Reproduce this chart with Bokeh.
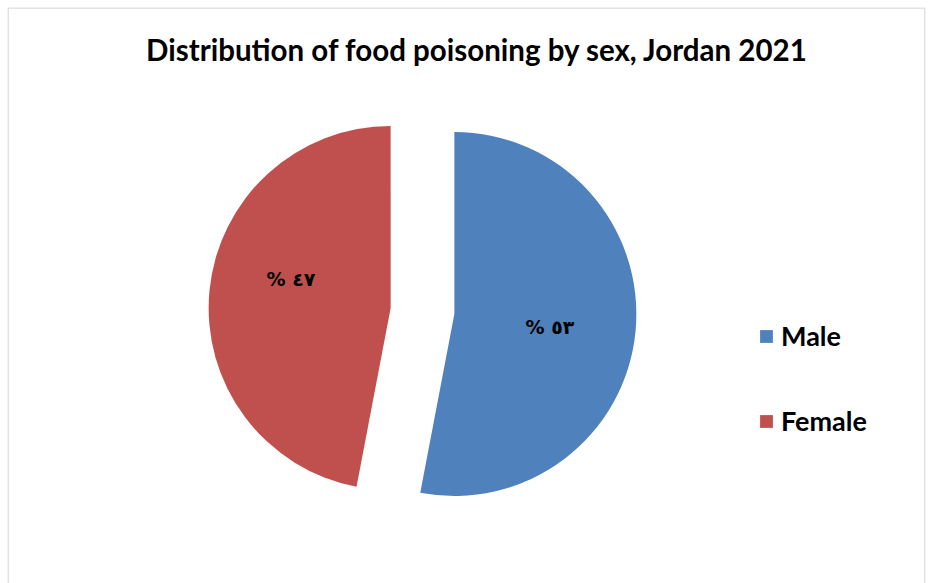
import math
from bokeh.plotting import figure
from bokeh.models import ColumnDataSource, Label, Legend, LegendItem, Range1d, BoxAnnotation
from bokeh.core.properties import value
from bokeh.embed import file_html
from bokeh.resources import INLINE

# ---- data ----
categories = ["Male", "Female"]
shares = [53, 47]
labels = ["% ٥٣", "% ٤٧"]
colors = ["#4F81BD", "#C0504D"]
title_text = "Distribution of food poisoning by sex, Jordan 2021"

W, H = 930, 583
FW, FH = 918, 576          # frame size (pixels)
CX, CY = 415, 272.5        # pie centre in pixel-like data units
R = 182
EXPLODE = 32

# angles: start at 12 o'clock, clockwise
total = sum(shares)
starts, ends, xs, ys, lx, ly = [], [], [], [], [], []
acc = 0.0
for s in shares:
    a0 = math.pi / 2 - 2 * math.pi * (acc + s) / total
    a1 = math.pi / 2 - 2 * math.pi * acc / total
    acc += s
    mid = (a0 + a1) / 2
    ox = CX + EXPLODE * math.cos(mid)
    oy = CY + EXPLODE * math.sin(mid)
    starts.append(a0)
    ends.append(a1)
    xs.append(ox)
    ys.append(oy)
    # label placement near the slice's mid ray, as in the source chart
    left = math.cos(mid) < 0
    la = mid + (-0.185 if left else -0.04)
    rr = 0.57 if left else 0.53
    lx.append(ox + rr * R * math.cos(la))
    ly.append(oy + rr * R * math.sin(la))

src = ColumnDataSource(dict(x=xs, y=ys, start=starts, end=ends, color=colors,
                            cat=categories, lab=labels, lx=lx, ly=ly))

p = figure(width=W, height=H, output_backend="svg", toolbar_location=None,
           x_range=Range1d(0, FW), y_range=Range1d(0, FH),
           min_border=0, min_border_left=7, min_border_right=W - 7 - FW,
           min_border_top=H - FH, min_border_bottom=0)
p.axis.visible = False
p.xgrid.visible = False
p.ygrid.visible = False
p.outline_line_color = None
p.background_fill_color = "white"
p.border_fill_color = "white"

frame_box = BoxAnnotation(left=0.6, right=FW - 0.6, top=FH - 0.6, bottom=-20,
                          fill_alpha=0, line_color="#8c8c8c", line_width=1.5)
p.add_layout(frame_box)

r = p.wedge(x="x", y="y", radius=R, start_angle="start", end_angle="end",
            fill_color="color", line_color=None, source=src)

p.text(x="lx", y="ly", text="lab", source=src, text_align="center",
       text_baseline="middle", text_font=value("DejaVu Sans"),
       text_font_style="bold", text_font_size="19px", text_color="black")

title = Label(x=470, y=FH - 42, x_units="screen", y_units="screen",
              text=title_text, text_align="center", text_baseline="middle",
              text_font="Lato", text_font_style="bold", text_font_size="29.5px",
              text_color="black")
p.add_layout(title)

items = [LegendItem(label=c, renderers=[r], index=i) for i, c in enumerate(categories)]
legend = Legend(items=items, location=(751, 146), orientation="vertical",
                glyph_width=16, glyph_height=16, label_standoff=7,
                spacing=52, padding=0, margin=0, border_line_color=None,
                background_fill_alpha=0,
                label_text_font="Lato", label_text_font_style="bold",
                label_text_font_size="27px",
                label_text_color="black", label_text_baseline="middle")
p.add_layout(legend)

open("out.html", "w").write(file_html(p, INLINE))
